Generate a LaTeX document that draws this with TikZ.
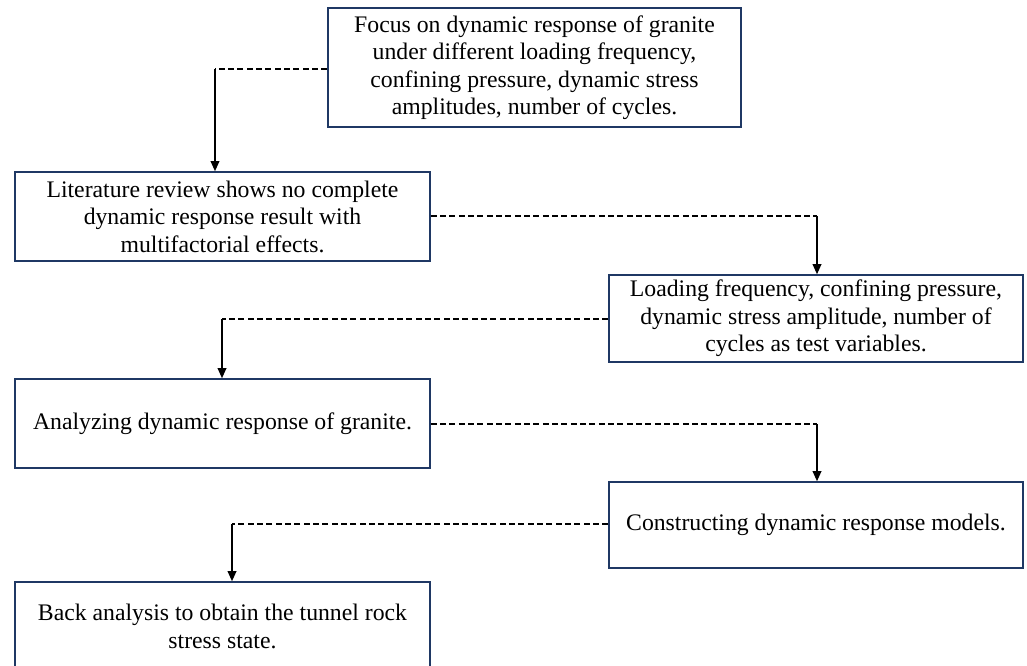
\documentclass[tikz,border=0pt]{standalone}
\usepackage{fontspec}
\setmainfont{Liberation Serif}
\usetikzlibrary{arrows.meta}
\definecolor{boxblue}{RGB}{31,56,100}
\begin{document}
\begin{tikzpicture}[x=0.75pt,y=-0.75pt,>={Triangle[length=7.5pt,width=6.5pt]},
  box/.style={draw=boxblue,line width=1.2pt,rectangle,align=center,inner sep=0pt,
    font=\fontsize{17.8}{20.6}\selectfont},
  link/.style={line width=1pt,dash pattern=on 4.5pt off 2.5pt},
  drop/.style={->,line width=1pt}]
\useasboundingbox (0,0) rectangle (1027,666);
\node[box,minimum width=309.75pt,minimum height=89.25pt] (B1) at (534.5,67.5) {Focus on dynamic response of granite\\under different loading frequency,\\confining pressure, dynamic stress\\amplitudes, number of cycles.};
\node[box,minimum width=311.25pt,minimum height=66.75pt] (B2) at (222.5,216.5) {Literature review shows no complete\\dynamic response result with\\multifactorial effects.};
\node[box,minimum width=310.5pt,minimum height=65.25pt] (B3) at (816,318.5) {Loading frequency, confining pressure,\\dynamic stress amplitude, number of\\cycles as test variables.};
\node[box,minimum width=311.25pt,minimum height=66.75pt] (B4) at (222.5,423.5) {Analyzing dynamic response of granite.};
\node[box,minimum width=310.5pt,minimum height=64.5pt] (B5) at (816,525) {Constructing dynamic response models.};
\node[box,minimum width=311.25pt,minimum height=66.75pt] (B6) at (222.5,626.5) {Back analysis to obtain the tunnel rock\\stress state.};
\coordinate (C1) at (215,69);
\coordinate (C2) at (817,216);
\coordinate (C3) at (222,319);
\coordinate (C4) at (817,424);
\coordinate (C5) at (232,524);
\draw[link] (B1.west |- C1) -- (C1);
\draw[drop] (C1) -- (C1 |- B2.north);
\draw[link] (B2.east |- C2) -- (C2);
\draw[drop] (C2) -- (C2 |- B3.north);
\draw[link] (B3.west |- C3) -- (C3);
\draw[drop] (C3) -- (C3 |- B4.north);
\draw[link] (B4.east |- C4) -- (C4);
\draw[drop] (C4) -- (C4 |- B5.north);
\draw[link] (B5.west |- C5) -- (C5);
\draw[drop] (C5) -- (C5 |- B6.north);
\end{tikzpicture}
\end{document}
